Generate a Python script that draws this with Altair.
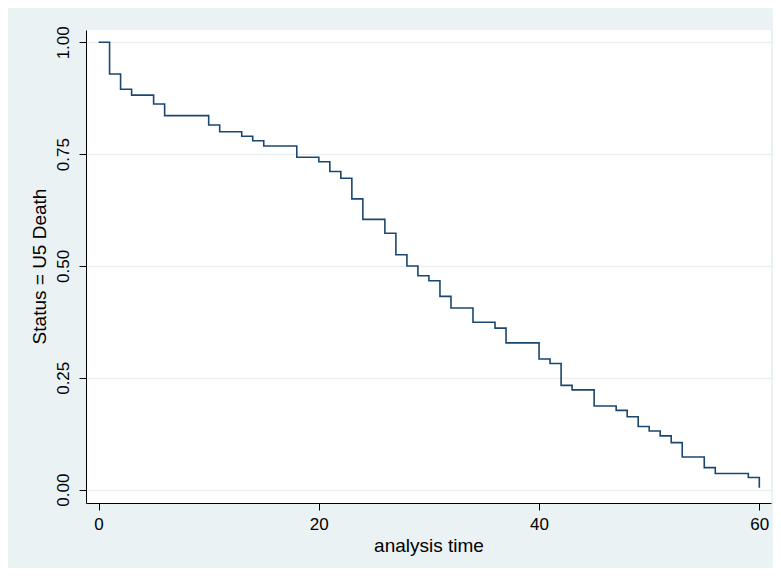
import altair as alt
import pandas as pd

# Kaplan-Meier estimate (step-after)
times = [0, 1, 2, 3, 5, 6, 10, 11, 13, 14, 15, 18, 20, 21, 22, 23, 24, 26, 27, 28,
         29, 30, 31, 32, 34, 36, 37, 40, 41, 42, 43, 45, 47, 48, 49, 50, 51, 52, 53,
         55, 56, 59, 60]
survival = [1.0, 0.929, 0.895, 0.882, 0.862, 0.836, 0.815, 0.800, 0.790, 0.780, 0.768,
            0.743, 0.733, 0.711, 0.696, 0.650, 0.604, 0.573, 0.525, 0.500, 0.478, 0.467,
            0.432, 0.406, 0.374, 0.361, 0.328, 0.292, 0.282, 0.233, 0.223, 0.187, 0.177,
            0.163, 0.141, 0.131, 0.120, 0.105, 0.073, 0.049, 0.036, 0.027, 0.004]

x_ticks = [0, 20, 40, 60]
y_ticks = [0.0, 0.25, 0.5, 0.75, 1.0]

df = pd.DataFrame({"t": times, "s": survival})

FONT = "Liberation Sans"

chart = alt.Chart(df).mark_line(
    interpolate="step-after", color="#1A476F", strokeWidth=1.6
).encode(
    x=alt.X("t:Q", scale=alt.Scale(domain=[-1.14, 61.06], nice=False, zero=False),
            axis=alt.Axis(title="analysis time", values=x_ticks, format="d",
                          grid=False, domainColor="#000000", tickColor="#000000",
                          tickSize=7, labelPadding=6, labelFontSize=17,
                          labelColor="#000000", labelFont=FONT,
                          titleFont=FONT, titleFontSize=19, titleFontWeight="normal",
                          titleColor="#000000", titleBaseline="alphabetic",
                          titleY=48, labelFlush=False)),
    y=alt.Y("s:Q", scale=alt.Scale(domain=[-0.03, 1.0275], nice=False, zero=False),
            axis=alt.Axis(title="Status = U5 Death", values=y_ticks, format=".2f",
                          grid=True, gridColor="#E8F0F2", gridWidth=1.6,
                          domainColor="#000000", tickColor="#000000", tickSize=7,
                          labelAngle=-90, labelAlign="center",
                          labelBaseline="alphabetic", labelPadding=11,
                          labelFontSize=17, labelColor="#000000", labelFont=FONT,
                          titleFont=FONT, titleFontSize=19, titleFontWeight="normal",
                          titleColor="#000000", titleAngle=-90,
                          titleBaseline="alphabetic", titleAlign="center",
                          titleX=-41, titleY=236, labelFlush=False)),
).properties(
    width=685, height=473,
    padding={"left": 78, "top": 22, "right": 2, "bottom": 65},
    autosize=alt.AutoSizeParams(type="none"),
    background="#EAF2F3",
).configure_view(
    fill="white", stroke=None
)

chart.save("out.html", embed_options={"renderer": "svg", "actions": False})
